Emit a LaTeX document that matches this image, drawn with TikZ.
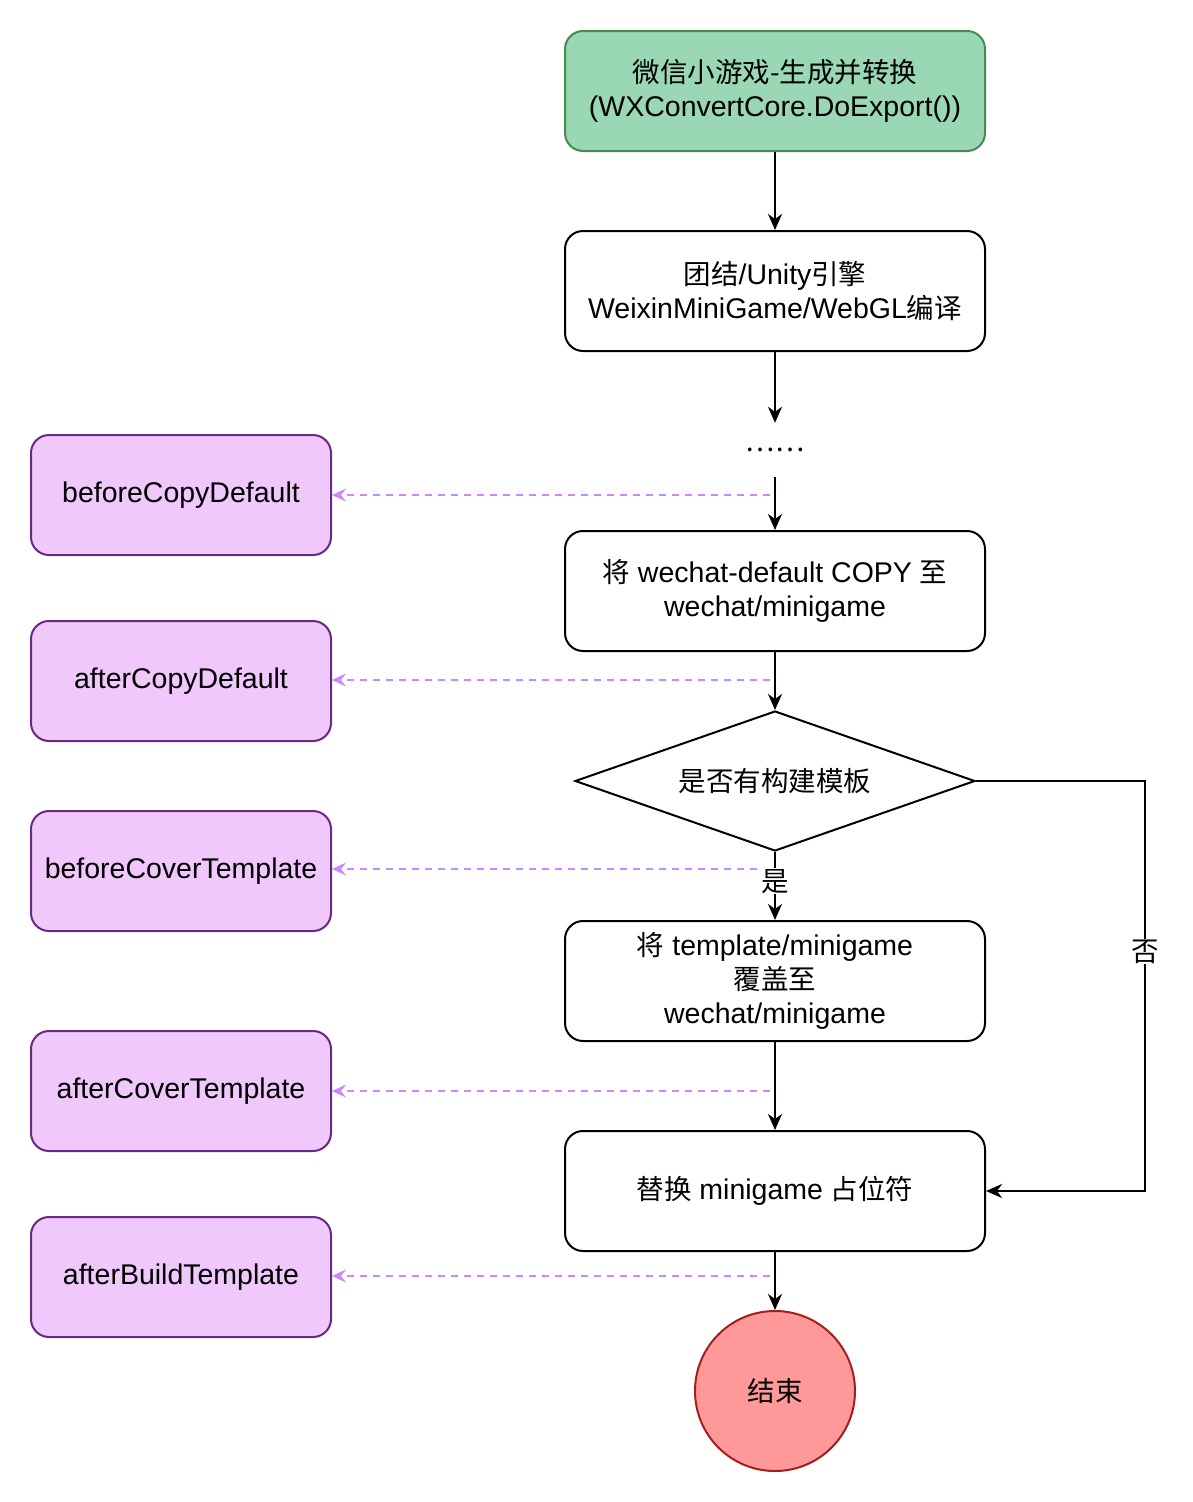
\documentclass[tikz,border=0pt]{standalone}
\usepackage{fontspec}
\setmainfont{Liberation Sans}
\newfontfamily\cjk[Scale=0.965]{Noto Sans CJK SC}
\newcommand{\zh}[1]{{\cjk #1}}
\usetikzlibrary{arrows.meta,shapes.geometric}
\definecolor{gfill}{RGB}{154,215,181}
\definecolor{gline}{RGB}{70,140,80}
\definecolor{pfill}{RGB}{240,200,252}
\definecolor{pline}{RGB}{105,40,130}
\definecolor{rfill}{RGB}{255,153,153}
\definecolor{rline}{RGB}{165,30,30}
\definecolor{dline}{RGB}{204,136,255}
\tikzset{
  txt/.style={font=\fontsize{28.5}{34}\selectfont, align=center, text=black},
  procbox/.style={txt, draw=black, line width=2pt, rounded corners=18pt, minimum width=420pt, minimum height=120pt, inner sep=0pt},
  startbox/.style={procbox, fill=gfill, draw=gline},
  hookbox/.style={txt, draw=pline, fill=pfill, line width=2pt, rounded corners=18pt, minimum width=300pt, minimum height=120pt, inner sep=0pt},
  decision/.style={txt, diamond, draw=black, line width=2pt, aspect=2.857, minimum width=400pt, minimum height=140pt, inner sep=0pt},
  endnode/.style={txt, circle, draw=rline, fill=rfill, line width=2pt, minimum size=160pt, inner sep=0pt},
  flow/.style={line width=2pt, draw=black, -{Stealth[length=16pt,width=14pt,inset=5pt]}},
  hook/.style={line width=1.6pt, draw=dline, dash pattern=on 7pt off 6pt, -{Stealth[length=14pt,width=13pt,inset=5pt]}},
  elabel/.style={txt, fill=white, inner sep=1pt}
}
\begin{document}
\begin{tikzpicture}[x=1pt,y=-1pt]
\useasboundingbox (0,0) rectangle (1192,1502);

% main flow
\node[startbox] (start) at (775,91) {\zh{微信小游戏-生成并转换}\\(WXConvertCore.DoExport())};
\node[procbox] (build) at (775,291) {\zh{团结}/Unity\zh{引擎}\\WeixinMiniGame/WebGL\zh{编译}};
\node[txt, minimum height=54pt, inner sep=0pt] (dots) at (775,450) {\zh{……}};
\node[procbox] (copy) at (775,591) {\zh{将} wechat-default COPY \zh{至}\\wechat/minigame};
\node[decision] (dec) at (775,781) {\zh{是否有构建模板}};
\node[procbox] (cover) at (775,981) {\zh{将} template/minigame\\\zh{覆盖至}\\wechat/minigame};
\node[procbox] (replace) at (775,1191) {\zh{替换} minigame \zh{占位符}};
\node[endnode] (end) at (775,1391) {\zh{结束}};

% hook boxes
\node[hookbox] (h1) at (181,495) {beforeCopyDefault};
\node[hookbox] (h2) at (181,681) {afterCopyDefault};
\node[hookbox] (h3) at (181,871) {beforeCoverTemplate};
\node[hookbox] (h4) at (181,1091) {afterCoverTemplate};
\node[hookbox] (h5) at (181,1277) {afterBuildTemplate};

\coordinate (c1) at (770,495);
\coordinate (c2) at (770,680);
\coordinate (c3) at (770,869);
\coordinate (c4) at (770,1091);
\coordinate (c5) at (770,1276);
\coordinate (turn) at (1145,1191);

% dashed hook connectors
\draw[hook] (c1) -- (c1 -| h1.east);
\draw[hook] (c2) -- (c2 -| h2.east);
\draw[hook] (c3) -- (c3 -| h3.east);
\draw[hook] (c4) -- (c4 -| h4.east);
\draw[hook] (c5) -- (c5 -| h5.east);

% flow connectors
\draw[flow] (start.south) -- (build.north);
\draw[flow] (build.south) -- (dots.north);
\draw[flow] (dots.south) -- (copy.north);
\draw[flow] (copy.south) -- (dec.north);
\draw[flow] (dec.south) -- node[elabel, pos=0.43] {\zh{是}} (cover.north);
\draw[flow] (cover.south) -- (replace.north);
\draw[flow] (replace.south) -- (end.north);
\draw[flow] (dec.east) -| node[elabel, pos=0.708] {\zh{否}} (turn) -- (replace.east);
\end{tikzpicture}
\end{document}
